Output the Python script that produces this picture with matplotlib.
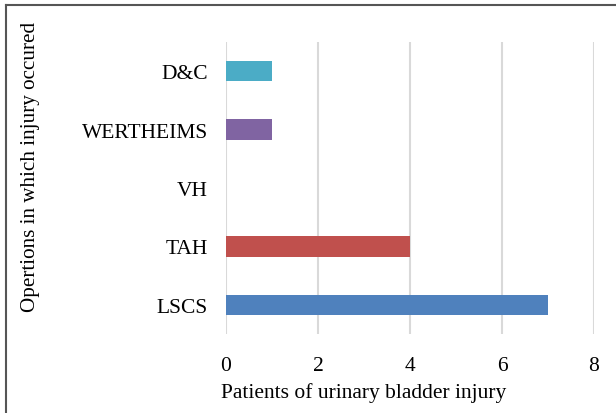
import matplotlib
matplotlib.use("Agg")
from matplotlib import pyplot as plt
from matplotlib.lines import Line2D

categories = ["LSCS", "TAH", "VH", "WERTHEIMS", "D&C"]
patients = [7, 4, 0, 1, 1]
colors = ["#4F81BD", "#C0504D", "#9BBB59", "#8064A2", "#4BACC6"]
xticks = [0, 2, 4, 6, 8]

plt.rcParams['font.family'] = ['Liberation Serif', 'DejaVu Serif']
fs = 15.5

fig = plt.figure(figsize=(6.16, 4.14), dpi=100)
ax = fig.add_axes([0.3669, 0.1908, 0.5974, 0.7053])

ax.barh(range(len(categories)), patients, height=0.35, color=colors, zorder=3)
ax.set_yticks(range(len(categories)))
ax.set_yticklabels(categories, fontsize=fs)
ax.set_xticks(xticks)
ax.set_xticklabels([str(t) for t in xticks], fontsize=fs)
ax.set_xlim(0, 8)
ax.set_ylim(-0.5, 4.5)
ax.grid(axis='x', color='#D9D9D9', linewidth=1.5, zorder=0)
for s in ax.spines.values():
    s.set_visible(False)
ax.tick_params(axis='y', length=0, pad=13)
ax.tick_params(axis='x', length=0, pad=16)
ax.set_xlabel("Patients of urinary bladder injury", fontsize=fs)
ax.xaxis.set_label_coords((364 - 226) / 368, -0.164)
ax.set_ylabel("Opertions in which injury occured", fontsize=15.2)
ax.yaxis.set_label_coords((40 - 226) / 368, 0.574)

# border on left and top only
fig.add_artist(Line2D([6 / 616, 6 / 616], [0, 1 - 6 / 414], color='#555555', linewidth=1.5, transform=fig.transFigure))
fig.add_artist(Line2D([6 / 616, 1], [1 - 6 / 414, 1 - 6 / 414], color='#555555', linewidth=1.5, transform=fig.transFigure))

fig.savefig("out.png", dpi=100)
